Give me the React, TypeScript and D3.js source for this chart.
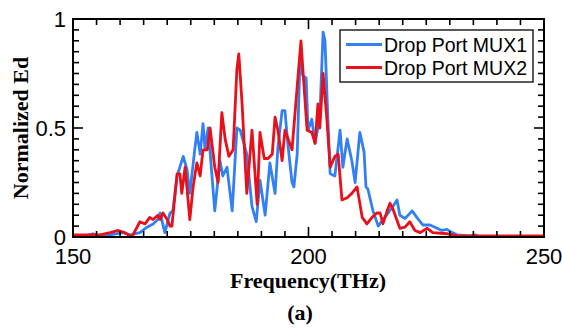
import React from "react";
import * as d3 from "d3";

const mux1Freq = [150.0, 152.5, 154.2, 155.7, 157.9, 160.6, 162.1, 164.2, 165.7, 167.0, 168.0, 168.5, 169.5, 170.6, 171.2, 172.1, 173.4, 174.2, 174.8, 175.9, 176.3, 177.0, 177.6, 178.0, 178.7, 180.1, 181.2, 181.8, 182.7, 183.8, 184.8, 185.5, 186.9, 188.0, 188.9, 189.7, 190.8, 191.8, 192.9, 193.5, 194.4, 195.0, 195.6, 196.5, 196.9, 197.6, 198.2, 198.8, 199.5, 199.9, 200.7, 201.4, 202.4, 203.1, 203.5, 204.1, 204.6, 205.6, 206.7, 207.3, 208.2, 209.2, 209.9, 210.9, 211.8, 212.2, 212.6, 213.7, 214.8, 215.8, 216.9, 217.9, 218.8, 219.4, 220.5, 222.0, 223.0, 224.3, 225.8, 227.3, 228.3, 229.4, 230.5, 231.5, 234.3, 235.4, 236.4, 250.0];
const mux1Vals = [0.0, 0.005, 0.015, 0.005, 0.01, 0.02, 0.01, 0.02, 0.045, 0.06, 0.08, 0.11, 0.02, 0.11, 0.12, 0.28, 0.37, 0.31, 0.2, 0.41, 0.48, 0.38, 0.52, 0.41, 0.5, 0.12, 0.35, 0.28, 0.32, 0.12, 0.5, 0.49, 0.38, 0.14, 0.07, 0.26, 0.1, 0.34, 0.2, 0.41, 0.58, 0.58, 0.43, 0.25, 0.23, 0.38, 0.82, 0.74, 0.73, 0.49, 0.54, 0.43, 0.55, 0.94, 0.9, 0.55, 0.29, 0.28, 0.49, 0.32, 0.45, 0.35, 0.25, 0.48, 0.39, 0.23, 0.22, 0.12, 0.05, 0.08, 0.11, 0.14, 0.17, 0.1, 0.085, 0.12, 0.09, 0.055, 0.055, 0.04, 0.03, 0.035, 0.02, 0.01, 0.005, 0.01, 0.0, 0.0];

const mux2Freq = [150.0, 155.7, 157.9, 159.6, 161.0, 162.5, 164.2, 165.3, 166.3, 167.0, 168.0, 168.5, 169.1, 170.0, 170.6, 171.0, 172.1, 172.7, 173.1, 173.8, 174.8, 175.5, 176.3, 177.0, 177.6, 178.5, 179.1, 180.1, 180.8, 181.6, 182.3, 183.1, 184.0, 184.8, 185.2, 185.9, 186.9, 188.0, 189.1, 189.7, 190.6, 191.4, 192.3, 192.9, 193.5, 194.4, 195.0, 196.5, 197.6, 198.4, 198.8, 199.7, 200.7, 201.4, 202.0, 202.4, 203.1, 203.9, 204.6, 205.6, 206.3, 207.1, 208.2, 209.2, 210.3, 211.4, 212.4, 213.5, 214.5, 215.2, 215.8, 216.7, 217.3, 217.9, 219.4, 220.5, 221.5, 222.6, 223.7, 225.2, 226.4, 229.4, 231.5, 250.0];
const mux2Vals = [0.01, 0.01, 0.02, 0.03, 0.02, 0.0, 0.07, 0.06, 0.09, 0.08, 0.1, 0.08, 0.11, 0.08, 0.05, 0.05, 0.29, 0.29, 0.2, 0.32, 0.08, 0.23, 0.34, 0.28, 0.4, 0.4, 0.5, 0.32, 0.25, 0.57, 0.45, 0.37, 0.4, 0.77, 0.84, 0.61, 0.2, 0.49, 0.15, 0.48, 0.36, 0.36, 0.38, 0.55, 0.49, 0.35, 0.49, 0.4, 0.69, 0.9, 0.77, 0.49, 0.48, 0.43, 0.61, 0.5, 0.75, 0.54, 0.32, 0.37, 0.38, 0.17, 0.18, 0.2, 0.23, 0.09, 0.06, 0.09, 0.11, 0.11, 0.06, 0.12, 0.155, 0.13, 0.04, 0.045, 0.07, 0.03, 0.02, 0.04, 0.02, 0.015, 0.005, 0.005];

const xTickLabels = ["150", "200", "250"];
const yTickLabels = ["0", "0.5", "1"];
const seriesNames = ["Drop Port MUX1", "Drop Port MUX2"];
const seriesColors = ["#3380f5", "#e8101a"];

export default function App() {
  const W = 562, H = 330;
  const L = 73, R = 544, T = 19, B = 237;
  const x = d3.scaleLinear().domain([150, 250]).range([L, R]);
  const y = d3.scaleLinear().domain([0, 1]).range([B, T]);
  const line = d3.line<[number, number]>().x(d => x(d[0])).y(d => y(d[1]));
  const s1 = mux1Freq.map((f, i) => [f, mux1Vals[i]] as [number, number]);
  const s2 = mux2Freq.map((f, i) => [f, mux2Vals[i]] as [number, number]);
  const xTicks = d3.range(150, 250.01, 5);
  const yTicks = d3.range(0, 1.001, 0.05);
  const minor = 6, major = 10;
  const isMajorX = (v: number) => Math.abs(v - 200) < 0.01 || Math.abs(v - 150) < 0.01 || Math.abs(v - 250) < 0.01;
  const isMajorY = (v: number) => Math.abs(v - 0.5) < 0.001 || v < 0.001 || v > 0.999;
  const sans = "'Liberation Sans', Arial, sans-serif";
  const serif = "'Liberation Serif', 'Times New Roman', serif";
  return (
    <svg width={W} height={H} style={{ position: "absolute", left: 0, top: 0, background: "#fff" }}>
      <rect x={0} y={0} width={W} height={H} fill="#fff" />
      <defs>
        <clipPath id="plot"><rect x={L} y={T - 2} width={R - L} height={B - T + 2} /></clipPath>
      </defs>
      <g clipPath="url(#plot)">
        <path d={line(s1) || ""} fill="none" stroke={seriesColors[0]} strokeWidth={2.8} strokeLinejoin="round" />
        <path d={line(s2) || ""} fill="none" stroke={seriesColors[1]} strokeWidth={2.8} strokeLinejoin="round" />
      </g>
      <g stroke="#000" strokeWidth={1.6}>
        {xTicks.map((v, i) => {
          const len = isMajorX(v) ? major : minor;
          return (
            <g key={"xt" + i}>
              <line x1={x(v)} x2={x(v)} y1={B} y2={B - len} />
              <line x1={x(v)} x2={x(v)} y1={T} y2={T + len} />
            </g>
          );
        })}
        {yTicks.map((v, i) => {
          const len = isMajorY(v) ? major : minor;
          return (
            <g key={"yt" + i}>
              <line x1={L} x2={L + len} y1={y(v)} y2={y(v)} />
              <line x1={R} x2={R - len} y1={y(v)} y2={y(v)} />
            </g>
          );
        })}
      </g>
      <rect x={L} y={T} width={R - L} height={B - T} fill="none" stroke="#000" strokeWidth={2} />
      {xTickLabels.map(t => (
        <text key={"xl" + t} x={x(+t)} y={264} textAnchor="middle" fontFamily={sans} fontSize={22} fill="#000">{t}</text>
      ))}
      {yTickLabels.map(t => (
        <text key={"yl" + t} x={66} y={y(+t) + 8} textAnchor="end" fontFamily={sans} fontSize={22} fill="#000">{t}</text>
      ))}
      <text x={308} y={288} textAnchor="middle" fontFamily={serif} fontWeight="bold" fontSize={22} fill="#000">Frequency(THz)</text>
      <text x={300} y={320} textAnchor="middle" fontFamily={serif} fontWeight="bold" fontSize={22} fill="#000">(a)</text>
      <text transform={`translate(28,${(T + B) / 2}) rotate(-90)`} textAnchor="middle" fontFamily={serif} fontWeight="bold" fontSize={22} fill="#000">Normalized Ed</text>
      <g>
        <rect x={340} y={30} width={193} height={52} fill="#fff" stroke="#222" strokeWidth={1.5} />
        {seriesNames.map((n, i) => (
          <g key={n}>
            <line x1={346} x2={382} y1={44.5 + i * 23} y2={44.5 + i * 23} stroke={seriesColors[i]} strokeWidth={2.8} />
            <text x={384} y={51.5 + i * 23} fontFamily={sans} fontSize={19.5} fill="#000">{n}</text>
          </g>
        ))}
      </g>
    </svg>
  );
}
